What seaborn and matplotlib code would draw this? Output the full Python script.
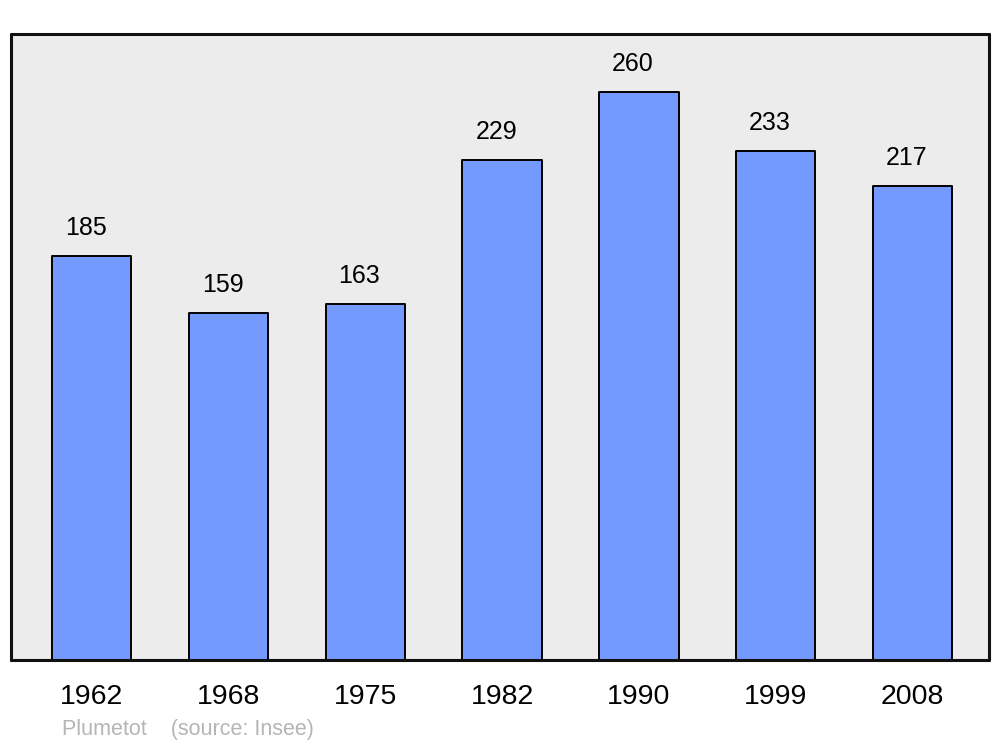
import matplotlib
matplotlib.use("Agg")
import matplotlib.pyplot as plt
import seaborn as sns
import pandas as pd

# ── Data ─────────────────────────────────────────────────────────────────────
years = ["1962", "1968", "1975", "1982", "1990", "1999", "2008"]
population = [185, 159, 163, 229, 260, 233, 217]
source_text = "Plumetot    (source: Insee)"

df = pd.DataFrame({"year": years, "pop": population})

sns.set_theme(style="white")
plt.rcParams["font.family"] = ["Liberation Sans", "DejaVu Sans"]

fig = plt.figure(figsize=(10, 7.47), dpi=100)
ax = fig.add_axes([0.011, 1 - 660 / 747, 0.978, (660 - 34) / 747])
ax.set_facecolor("#ececec")

sns.barplot(data=df, x="year", y="pop", color="#7499ff", saturation=1,
            width=0.58, edgecolor="black", linewidth=1.4, ax=ax)

for bar in ax.patches:
    bar.set_joinstyle("round")

ax.set_xlim(-0.59, 6.56)
ax.set_ylim(0, 286.5)

# value labels above bars
for i, v in enumerate(population):
    ax.annotate(str(v), (i, v), xytext=(-4.3, 20), textcoords="offset points",
                ha="center", va="center", fontsize=18, color="black")

ax.set_xlabel("")
ax.set_ylabel("")
ax.set_yticks([])
ax.tick_params(axis="x", length=0, pad=17.5, labelsize=20.5, colors="black")

for s in ax.spines.values():
    s.set_visible(True)
    s.set_color("#111111")
    s.set_linewidth(2.2)
    s.set_capstyle("round")

fig.text(0.062, 1 - 730 / 747, source_text, fontsize=15.5, color="#b5b5b5",
         ha="left", va="center")

fig.savefig("out.png", dpi=100)
